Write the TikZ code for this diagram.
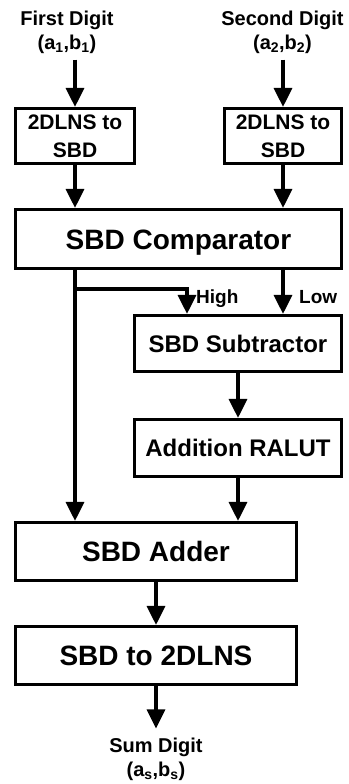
\documentclass[tikz,border=0pt]{standalone}
\usepackage{fontspec}
\setmainfont{Liberation Sans}
\usetikzlibrary{arrows.meta,calc}

\begin{document}
\begin{tikzpicture}[x=1pt,y=-1pt,
  blk/.style={draw,line width=3.2pt,inner sep=0pt},
  big/.style={blk,font=\bfseries\fontsize{28}{34}\selectfont,text height=20pt,text depth=0pt},
  mid/.style={blk,font=\bfseries\fontsize{24}{29}\selectfont,text height=17.2pt,text depth=0pt},
  sml/.style={blk,align=center,font=\bfseries\fontsize{21}{28}\selectfont},
  io/.style={align=center,inner xsep=0pt,inner ysep=6pt,font=\bfseries\fontsize{20}{24}\selectfont},
  tag/.style={inner sep=0pt,font=\bfseries\fontsize{19}{23}\selectfont,text height=13.6pt,text depth=0pt},
  arr/.style={line width=3.2pt,-{Triangle[width=18pt,length=19pt]}}]
\useasboundingbox (0,0) rectangle (348,784);

% inputs and converters
\node[io] (in1) at (67,32) {First Digit\\(a\textsubscript{1},b\textsubscript{1})};
\node[io] (in2) at (282.5,32) {Second Digit\\(a\textsubscript{2},b\textsubscript{2})};

\node[sml,minimum width=119pt,minimum height=55pt] (conv1) at (75,136) {2DLNS to\\SBD};
\node[sml,minimum width=117pt,minimum height=55pt] (conv2) at (283,136) {2DLNS to\\SBD};

% main blocks
\node[big,minimum width=326pt,minimum height=59pt] (comp) at (178.5,239) {SBD Comparator};
\node[mid,minimum width=207pt,minimum height=56pt] (sub) at (238,343.5) {SBD Subtractor};
\node[mid,minimum width=207pt,minimum height=57pt] (ralut) at (238,448) {Addition RALUT};
\node[big,minimum width=281pt,minimum height=58pt] (adder) at (156,551.5) {SBD Adder};
\node[big,minimum width=281pt,minimum height=58pt] (back) at (156,655.5) {SBD to 2DLNS};

\node[io,inner ysep=9pt] (out) at (156,759) {Sum Digit\\(a\textsubscript{s},b\textsubscript{s})};

\node[tag,anchor=west] (high) at (196,297) {High};
\node[tag,anchor=west] (low) at (299,297) {Low};

\coordinate (tap) at (75,289);
\coordinate (hi) at (187,289);

% connectors
\draw[arr] (in1.south -| conv1) -- (conv1);
\draw[arr] (in2.south -| conv2) -- (conv2);
\draw[arr] (conv1) -- (conv1 |- comp.north);
\draw[arr] (conv2) -- (conv2 |- comp.north);

\draw[arr] (comp.south -| conv1) -- (adder.north -| conv1);
\draw[arr] (tap) -- (hi) -- (hi |- sub.north);
\draw[arr] (comp.south -| conv2) -- (sub.north -| conv2);

\draw[arr] (sub) -- (ralut);
\draw[arr] (ralut) -- (ralut |- adder.north);
\draw[arr] (adder) -- (back);
\draw[arr] (back) -- (out);

\end{tikzpicture}
\end{document}
